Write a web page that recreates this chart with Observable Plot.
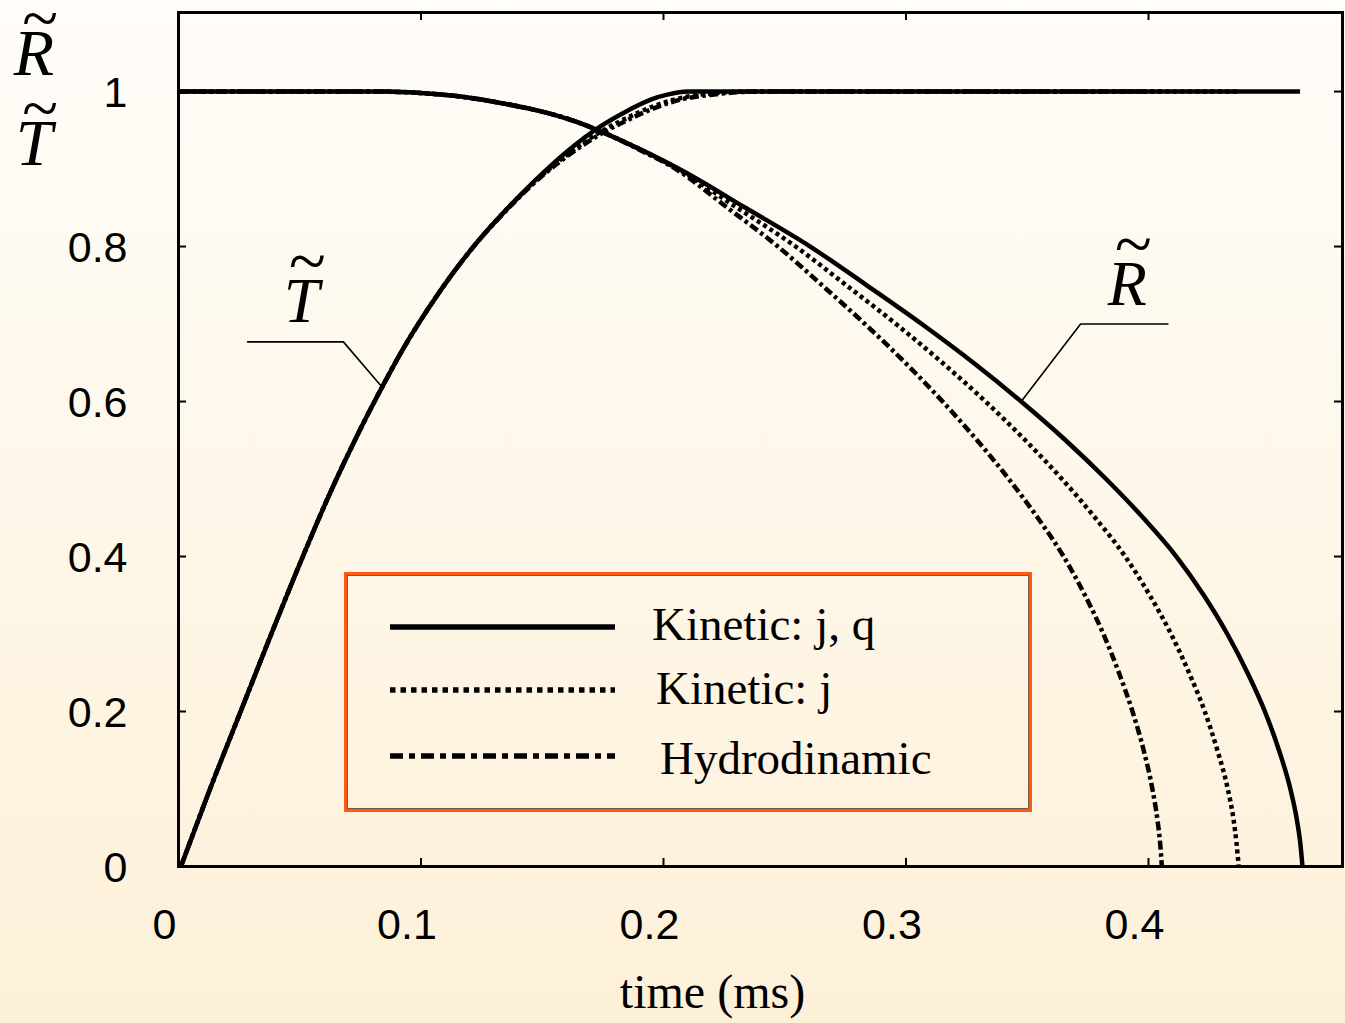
<!DOCTYPE html>
<html><head><meta charset="utf-8">
<script src="https://cdn.jsdelivr.net/npm/d3@7"></script>
<script src="https://cdn.jsdelivr.net/npm/@observablehq/plot@0.6"></script>
<style>
html,body{margin:0;padding:0;}
body{width:1345px;height:1023px;background:linear-gradient(#fffdf9,#fdf0d8);overflow:hidden;position:relative;}
#chart{position:absolute;left:0;top:0;}
#legend{position:absolute;left:344px;top:572px;}
#ytitle{position:absolute;left:0;top:0;}
</style></head><body><div id="chart"></div><div id="legend"></div><div id="ytitle"></div>
<script>
// ---- data ----
const seriesNames = ["Kinetic: j, q", "Kinetic: j", "Hydrodinamic"];
const yTitleLetters = ["R", "T"];

// R~ curves (time in ms, value)
const rJQ_t = [0, 0.06, 0.085, 0.1, 0.12, 0.135, 0.146, 0.155, 0.165, 0.1738, 0.19, 0.2065, 0.2338, 0.2605, 0.2838, 0.3065, 0.3278, 0.3475, 0.3658, 0.3825, 0.3978, 0.4115, 0.4228, 0.4325, 0.4408, 0.448, 0.4538, 0.4585, 0.4612, 0.4626, 0.4635];
const rJQ_v = [1, 1, 1, 0.998, 0.992, 0.984, 0.977, 0.97, 0.96, 0.949, 0.926, 0.9, 0.85, 0.8, 0.75, 0.7, 0.65, 0.6, 0.55, 0.5, 0.45, 0.4, 0.35, 0.3, 0.25, 0.2, 0.15, 0.1, 0.06, 0.03, 0];
const rJ_t = [0, 0.06, 0.085, 0.1, 0.12, 0.135, 0.146, 0.155, 0.165, 0.1738, 0.19, 0.2059, 0.2304, 0.2545, 0.2754, 0.2959, 0.315, 0.3328, 0.3492, 0.3643, 0.378, 0.3904, 0.4005, 0.4093, 0.4167, 0.4232, 0.4284, 0.4327, 0.4351, 0.4363, 0.4372];
const rJ_v = [1, 1, 1, 0.998, 0.992, 0.984, 0.977, 0.97, 0.96, 0.949, 0.926, 0.9, 0.85, 0.8, 0.75, 0.7, 0.65, 0.6, 0.55, 0.5, 0.45, 0.4, 0.35, 0.3, 0.25, 0.2, 0.15, 0.1, 0.06, 0.03, 0];
const rH_t = [0, 0.06, 0.085, 0.1, 0.12, 0.135, 0.146, 0.155, 0.165, 0.1738, 0.19, 0.2051, 0.2264, 0.2472, 0.2654, 0.2831, 0.2997, 0.3151, 0.3293, 0.3424, 0.3543, 0.365, 0.3738, 0.3814, 0.3878, 0.3934, 0.398, 0.4016, 0.4037, 0.4048, 0.4055];
const rH_v = [1, 1, 1, 0.998, 0.992, 0.984, 0.977, 0.97, 0.96, 0.949, 0.925, 0.9, 0.85, 0.8, 0.75, 0.7, 0.65, 0.6, 0.55, 0.5, 0.45, 0.4, 0.35, 0.3, 0.25, 0.2, 0.15, 0.1, 0.06, 0.03, 0];

// T~ curves
const tJQ_t = [0.001, 0.013, 0.026, 0.038, 0.051, 0.0625, 0.0735, 0.0825, 0.093, 0.103, 0.113, 0.123, 0.135, 0.147, 0.16, 0.174, 0.185, 0.195, 0.2016, 0.21, 0.22, 0.4625];
const tJQ_v = [0, 0.1, 0.203, 0.298, 0.398, 0.482, 0.555, 0.61, 0.67, 0.72, 0.765, 0.805, 0.847, 0.885, 0.922, 0.955, 0.975, 0.99, 0.996, 1, 1, 1];
const tJ_t = [0.001, 0.013, 0.026, 0.038, 0.051, 0.0625, 0.0735, 0.0825, 0.093, 0.103, 0.113, 0.123, 0.135, 0.147, 0.16, 0.174, 0.185, 0.195, 0.205, 0.215, 0.235, 0.4372];
const tJ_v = [0, 0.1, 0.203, 0.298, 0.398, 0.482, 0.555, 0.61, 0.67, 0.72, 0.765, 0.805, 0.847, 0.884, 0.918, 0.948, 0.966, 0.98, 0.99, 0.996, 1, 1];
const tH_t = [0.001, 0.013, 0.026, 0.038, 0.051, 0.0625, 0.0735, 0.0825, 0.093, 0.103, 0.113, 0.123, 0.135, 0.147, 0.16, 0.174, 0.185, 0.195, 0.205, 0.22, 0.24, 0.4055];
const tH_v = [0, 0.1, 0.203, 0.298, 0.398, 0.482, 0.555, 0.61, 0.67, 0.72, 0.765, 0.805, 0.846, 0.883, 0.916, 0.945, 0.963, 0.977, 0.988, 0.996, 1, 1];

const xTicks = [0, 0.1, 0.2, 0.3, 0.4];
const xTickLabels = ["0", "0.1", "0.2", "0.3", "0.4"];
const yTicks = [0, 0.2, 0.4, 0.6, 0.8, 1];
const yTickLabels = ["0", "0.2", "0.4", "0.6", "0.8", "1"];

// curve annotations: label anchor (baseline) and leader lines (data coordinates)
const annLabels = [{t: 0.0507, v: 0.702, letter: "T"}, {t: 0.3913, v: 0.724, letter: "R"}];
const leaderT = [{t: 0.0285, v: 0.677}, {t: 0.068, v: 0.677}, {t: 0.0833, v: 0.621}];
const leaderR = [{t: 0.408, v: 0.70}, {t: 0.372, v: 0.70}, {t: 0.3475, v: 0.60}];

// ---- build ----
const zip = (ts, vs) => ts.map((t, i) => ({t, v: vs[i]}));
const series = [
  {name: seriesNames[2], dash: "9,3.5,3.5,3.5", R: zip(rH_t, rH_v), T: zip(tH_t, tH_v)},
  {name: seriesNames[1], dash: "4,3.5", R: zip(rJ_t, rJ_v), T: zip(tJ_t, tJ_v)},
  {name: seriesNames[0], dash: null, R: zip(rJQ_t, rJQ_v), T: zip(tJQ_t, tJQ_v)}
];

const W = 1345, H = 1023, mT = 12, mB = 157, mL = 178, mR = 3;
const innerH = H - mT - mB, innerW = W - mL - mR;
const tickLen = 8;
const serif = "'Liberation Serif', 'Times New Roman', serif";
const sans = "'Liberation Sans', Arial, sans-serif";

const lineMarks = [];
for (const s of series) {
  for (const part of [s.R, s.T]) {
    lineMarks.push(Plot.line(part, {x: "t", y: "v", stroke: "black", strokeWidth: 4.5,
      strokeDasharray: s.dash, strokeLinecap: "butt", curve: "monotone-x"}));
  }
}

const plot = Plot.plot({
  width: W, height: H,
  marginTop: mT, marginBottom: mB, marginLeft: mL, marginRight: mR,
  x: {domain: [0, 0.48], axis: null},
  y: {domain: [0, 1.102], axis: null},
  style: {background: "transparent", overflow: "visible"},
  marks: [
    // inward ticks on all four sides
    Plot.tickX(xTicks.slice(1), {x: d => d, insetTop: innerH - tickLen, stroke: "black", strokeWidth: 2}),
    Plot.tickX(xTicks.slice(1), {x: d => d, insetBottom: innerH - tickLen, stroke: "black", strokeWidth: 2}),
    Plot.tickY(yTicks.slice(1), {y: d => d, insetRight: innerW - tickLen, stroke: "black", strokeWidth: 2}),
    Plot.tickY(yTicks.slice(1), {y: d => d, insetLeft: innerW - tickLen, stroke: "black", strokeWidth: 2}),
    ...lineMarks,
    // leader lines and curve labels
    Plot.line(leaderT, {x: "t", y: "v", stroke: "black", strokeWidth: 1.6}),
    Plot.line(leaderR, {x: "t", y: "v", stroke: "black", strokeWidth: 1.6}),
    Plot.text(annLabels, {x: "t", y: "v", text: "letter", fontFamily: serif, fontStyle: "italic", fontSize: 64, textAnchor: "middle", lineAnchor: "bottom", fill: "black"}),
    Plot.text(annLabels, {x: "t", y: "v", text: () => "~", fontFamily: serif, fontSize: 68, textAnchor: "middle", lineAnchor: "bottom", dx: 6, dy: -38, fill: "black"}),
    Plot.frame({stroke: "black", strokeWidth: 3}),
    // tick labels
    Plot.text(xTicks, {x: d => d, text: (d, i) => xTickLabels[i], frameAnchor: "bottom", dy: 59, dx: -14, lineAnchor: "middle", fontFamily: sans, fontSize: 43, fill: "black"}),
    Plot.text(yTicks, {y: d => d, text: (d, i) => yTickLabels[i], frameAnchor: "left", dx: -51, dy: 2, textAnchor: "end", fontFamily: sans, fontSize: 43, fill: "black"}),
    // x axis title
    Plot.text(["time (ms)"], {frameAnchor: "bottom", dy: 126, dx: -48, lineAnchor: "middle", fontFamily: serif, fontSize: 48, fill: "black"})
  ]
});
document.getElementById("chart").appendChild(plot);

// ---- y axis title: R~ over T~ ----
const ysvg = d3.select("#ytitle").append("svg").attr("width", 100).attr("height", 180);
const yBase = [75, 165];
yTitleLetters.forEach((L, i) => {
  ysvg.append("text").attr("x", 34).attr("y", yBase[i]).attr("text-anchor", "middle")
    .attr("font-family", serif).attr("font-style", "italic").attr("font-size", 66).attr("fill", "black").text(L);
  ysvg.append("text").attr("x", 40).attr("y", yBase[i] - 35).attr("text-anchor", "middle")
    .attr("font-family", serif).attr("font-size", 66).attr("fill", "black").text("~");
});

// ---- legend ----
const legW = 688, legH = 240;
const legendRows = [
  {name: seriesNames[0], dash: null},
  {name: seriesNames[1], dash: "5.5,5"},
  {name: seriesNames[2], dash: "13,6,6,6"}
];
const lsvg = d3.select("#legend").append("svg").attr("width", legW).attr("height", legH);
lsvg.append("rect").attr("x", 1.5).attr("y", 1.5).attr("width", legW - 3).attr("height", legH - 3)
  .attr("fill", "none").attr("stroke", "#ff5a14").attr("stroke-width", 3);
lsvg.append("rect").attr("x", 3.5).attr("y", 3.5).attr("width", legW - 7).attr("height", legH - 7)
  .attr("fill", "none").attr("stroke", "#5a3020").attr("stroke-width", 0.8);
const rowY = [55, 118, 184];
const textX = [308, 312, 316];
const textY = [68, 132, 202];
legendRows.forEach((r, i) => {
  lsvg.append("line").attr("x1", 46).attr("x2", 271).attr("y1", rowY[i]).attr("y2", rowY[i])
    .attr("stroke", "black").attr("stroke-width", 5.5).attr("stroke-dasharray", r.dash);
  lsvg.append("text").attr("x", textX[i]).attr("y", textY[i]).text(r.name)
    .attr("font-family", serif).attr("font-size", 47).attr("fill", "black");
});
</script>
</body></html>
